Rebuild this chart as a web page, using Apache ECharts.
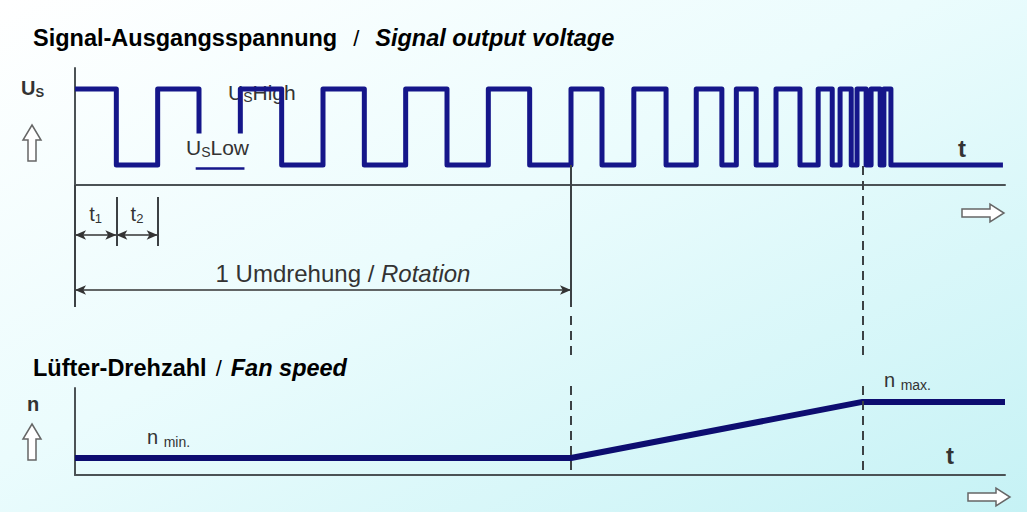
<!DOCTYPE html>
<html>
<head>
<meta charset="utf-8">
<script src="https://cdn.jsdelivr.net/npm/echarts@6/dist/echarts.min.js"></script>
<style>
  html, body { margin: 0; padding: 0; }
  #chart { width: 1027px; height: 512px; }
</style>
</head>
<body>
<div id="chart"></div>
<script>
// time axis in units of the first half period, so one rotation = 12
const edges = [1, 2, 3, 4, 5, 6, 7, 8, 9, 10, 11, 12, 12.75, 13.52, 14.3, 15.03, 15.65, 16, 16.48, 16.96,
  17.54, 17.98, 18.32, 18.51, 18.78, 18.92, 19.14, 19.26, 19.48, 19.57, 19.74]
const waveEnd = 22.45
const uHigh = 82
const uLow = 17
const gapEdges = [3, 4]   // the low part under the "U_S Low" label is left open
const gapLevel = 44
const lowMarker = [2.92, 4.1]
const lowMarkerLevel = 14

const rotationEnd = 12
const t1Span = [0, 1]
const t2Span = [1, 2]
const maxSpeedTime = 19.05

const speedTimes = [0, 12, 19.05, 22.5]
const speedValues = [19.5, 19.5, 84, 84]

const font = 'Liberation Sans, Arial, sans-serif'
const axisColor = '#4b5255'
const waveColor = '#15168a'
const guideColor = '#3c4144'

// square wave from the edge times
const wave = [[0, uHigh]]
let level = uHigh
edges.forEach(t => {
  const next = level === uHigh ? uLow : uHigh
  if (t === gapEdges[0]) {
    wave.push([t, level], [t, gapLevel], [t, '-'])
  } else if (t === gapEdges[1]) {
    wave.push([t, gapLevel], [t, next])
  } else {
    wave.push([t, level], [t, next])
  }
  level = next
})
wave.push([waveEnd, level])

const speed = speedTimes.map((t, i) => [t, speedValues[i]])

const myChart = echarts.init(document.getElementById('chart'), null, { renderer: 'svg' })

const hollowUp = (cx, top) => ({
  type: 'polygon',
  shape: { points: [[cx, top], [cx + 9, top + 15], [cx + 4, top + 15], [cx + 4, top + 36], [cx - 4, top + 36], [cx - 4, top + 15], [cx - 9, top + 15]] },
  style: { fill: '#ffffff', stroke: '#666', lineWidth: 1.5 }
})
const hollowRight = (left, cy) => ({
  type: 'polygon',
  shape: { points: [[left, cy - 4], [left + 28, cy - 4], [left + 28, cy - 9], [left + 42, cy], [left + 28, cy + 9], [left + 28, cy + 4], [left, cy + 4]] },
  style: { fill: '#ffffff', stroke: '#666', lineWidth: 1.5 }
})
const label = (x, y, text, rich) => ({
  type: 'text',
  style: { x, y, text, rich, verticalAlign: 'middle', font: '16px ' + font, fill: '#333' }
})

const subRich = (size, sub, color, weight) => ({
  a: { fontSize: size, fontFamily: font, color, fontWeight: weight },
  s: { fontSize: sub, fontFamily: font, color, fontWeight: weight, padding: [Math.round(size * 0.45), 0, 0, 0] }
})

const titleRich = (gap) => ({
  b: { fontSize: 23.5, fontWeight: 'bold', fontFamily: font, color: '#222' },
  s: { fontSize: 22, fontFamily: font, color: '#aaa', padding: [0, gap, 0, gap] },
  i: { fontSize: 23.5, fontWeight: 'bold', fontStyle: 'italic', fontFamily: font, color: '#222' }
})

const option = {
  animation: false,
  backgroundColor: {
    type: 'linear', x: 0, y: 0, x2: 1, y2: 1,
    colorStops: [
      { offset: 0, color: '#ffffff' },
      { offset: 0.45, color: '#ebfcfd' },
      { offset: 1, color: '#c6f2f5' }
    ]
  },
  grid: [
    { left: 75, right: 22, top: 68, height: 117 },
    { left: 75, right: 22, top: 388, height: 87 },
    { left: 75, right: 22, top: 0, bottom: 0 }
  ],
  xAxis: [0, 1, 2].map(i => ({
    type: 'value',
    gridIndex: i,
    min: 0,
    max: 22.5,
    show: i < 2,
    axisLine: { show: true, onZero: false, lineStyle: { color: axisColor, width: 2 } },
    axisTick: { show: false },
    axisLabel: { show: false },
    splitLine: { show: false }
  })),
  yAxis: [
    { type: 'value', gridIndex: 0, min: 0, max: 100 },
    { type: 'value', gridIndex: 1, min: 0, max: 100 },
    { type: 'value', gridIndex: 2, min: 0, max: 512, inverse: true, show: false }
  ].map(a => Object.assign(a, {
    axisLine: { show: true, lineStyle: { color: axisColor, width: 2 } },
    axisTick: { show: false },
    axisLabel: { show: false },
    splitLine: { show: false }
  })),
  series: [
    {
      name: 'Signal',
      type: 'line',
      xAxisIndex: 0,
      yAxisIndex: 0,
      data: wave,
      showSymbol: false,
      connectNulls: false,
      lineStyle: { color: waveColor, width: 5, join: 'round' }
    },
    {
      name: 'U_S Low',
      type: 'line',
      xAxisIndex: 0,
      yAxisIndex: 0,
      data: lowMarker.map(t => [t, lowMarkerLevel]),
      showSymbol: false,
      lineStyle: { color: waveColor, width: 2.5 }
    },
    {
      name: 'Fan speed',
      type: 'line',
      xAxisIndex: 1,
      yAxisIndex: 1,
      data: speed,
      showSymbol: false,
      lineStyle: { color: '#0d0d70', width: 6, join: 'round' }
    },
    {
      // dimension arrows t1, t2 and one rotation
      type: 'line',
      xAxisIndex: 2,
      yAxisIndex: 2,
      data: [],
      markLine: {
        silent: true,
        symbol: ['arrow', 'arrow'],
        symbolSize: [7, 11],
        lineStyle: { color: '#333', width: 1.5, type: 'solid' },
        label: {
          show: true,
          position: 'insideMiddleTop',
          rich: subRich(20, 13, '#333', 'normal')
        },
        data: [
          [{ coord: [t1Span[0], 235], label: { formatter: '{a|t}{s|1}', distance: 10 } }, { coord: [t1Span[1], 235] }],
          [{ coord: [t2Span[0], 235], label: { formatter: '{a|t}{s|2}', distance: 10 } }, { coord: [t2Span[1], 235] }],
          [{
            coord: [0, 290],
            label: {
              formatter: '{r|1 Umdrehung / }{i|Rotation}',
              distance: 5,
              offset: [20, 0],
              rich: {
                r: { fontSize: 24, fontFamily: font, color: '#333' },
                i: { fontSize: 24, fontFamily: font, color: '#333', fontStyle: 'italic' }
              }
            }
          }, { coord: [rotationEnd, 290] }]
        ]
      }
    },
    {
      // solid extension lines
      type: 'line',
      xAxisIndex: 2,
      yAxisIndex: 2,
      data: [],
      markLine: {
        silent: true,
        symbol: 'none',
        label: { show: false },
        lineStyle: { color: guideColor, width: 2, type: 'solid' },
        data: [
          [{ coord: [0, 185] }, { coord: [0, 307] }],
          [{ coord: [t1Span[1], 197] }, { coord: [t1Span[1], 246] }],
          [{ coord: [t2Span[1], 197] }, { coord: [t2Span[1], 246] }],
          [{ coord: [rotationEnd, 165] }, { coord: [rotationEnd, 307] }]
        ]
      }
    },
    {
      // dashed guide lines
      type: 'line',
      xAxisIndex: 2,
      yAxisIndex: 2,
      data: [],
      markLine: {
        silent: true,
        symbol: 'none',
        label: { show: false },
        lineStyle: { color: guideColor, width: 2, type: [9, 6] },
        data: [
          [{ coord: [rotationEnd, 316] }, { coord: [rotationEnd, 356] }],
          [{ coord: [rotationEnd, 386] }, { coord: [rotationEnd, 475] }],
          [{ coord: [maxSpeedTime, 166] }, { coord: [maxSpeedTime, 356] }],
          [{ coord: [maxSpeedTime, 386] }, { coord: [maxSpeedTime, 475] }]
        ]
      }
    }
  ],
  graphic: [
    {
      type: 'text',
      style: {
        x: 33, y: 38, verticalAlign: 'middle',
        text: '{b|Signal-Ausgangsspannung}{s|/}{i|Signal output voltage}',
        rich: titleRich(16)
      }
    },
    {
      type: 'text',
      style: {
        x: 33, y: 368, verticalAlign: 'middle',
        text: '{b|Lüfter-Drehzahl}{s|/}{i|Fan speed}',
        rich: titleRich(9)
      }
    },
    label(21, 88, '{a|U}{s|S}', subRich(20, 13, '#333', 'bold')),
    label(228, 92, '{a|U}{s|S}{a|High}', subRich(21, 14, '#333', 'normal')),
    label(186, 147, '{a|U}{s|S}{a|Low}', subRich(21, 14, '#555', 'normal')),
    label(27, 404, '{a|n}', subRich(20, 13, '#333', 'bold')),
    label(147, 437, '{a|n }{s|min.}', subRich(20, 14, '#333', 'normal')),
    label(884, 380, '{a|n }{s|max.}', subRich(20, 14, '#333', 'normal')),
    label(958, 148, '{a|t}', subRich(24, 12, '#222', 'bold')),
    label(946, 455, '{a|t}', subRich(24, 12, '#222', 'bold')),
    hollowUp(32, 125),
    hollowUp(32, 424),
    hollowRight(962, 213),
    hollowRight(968, 497)
  ]
}

myChart.setOption(option)
</script>
</body>
</html>
